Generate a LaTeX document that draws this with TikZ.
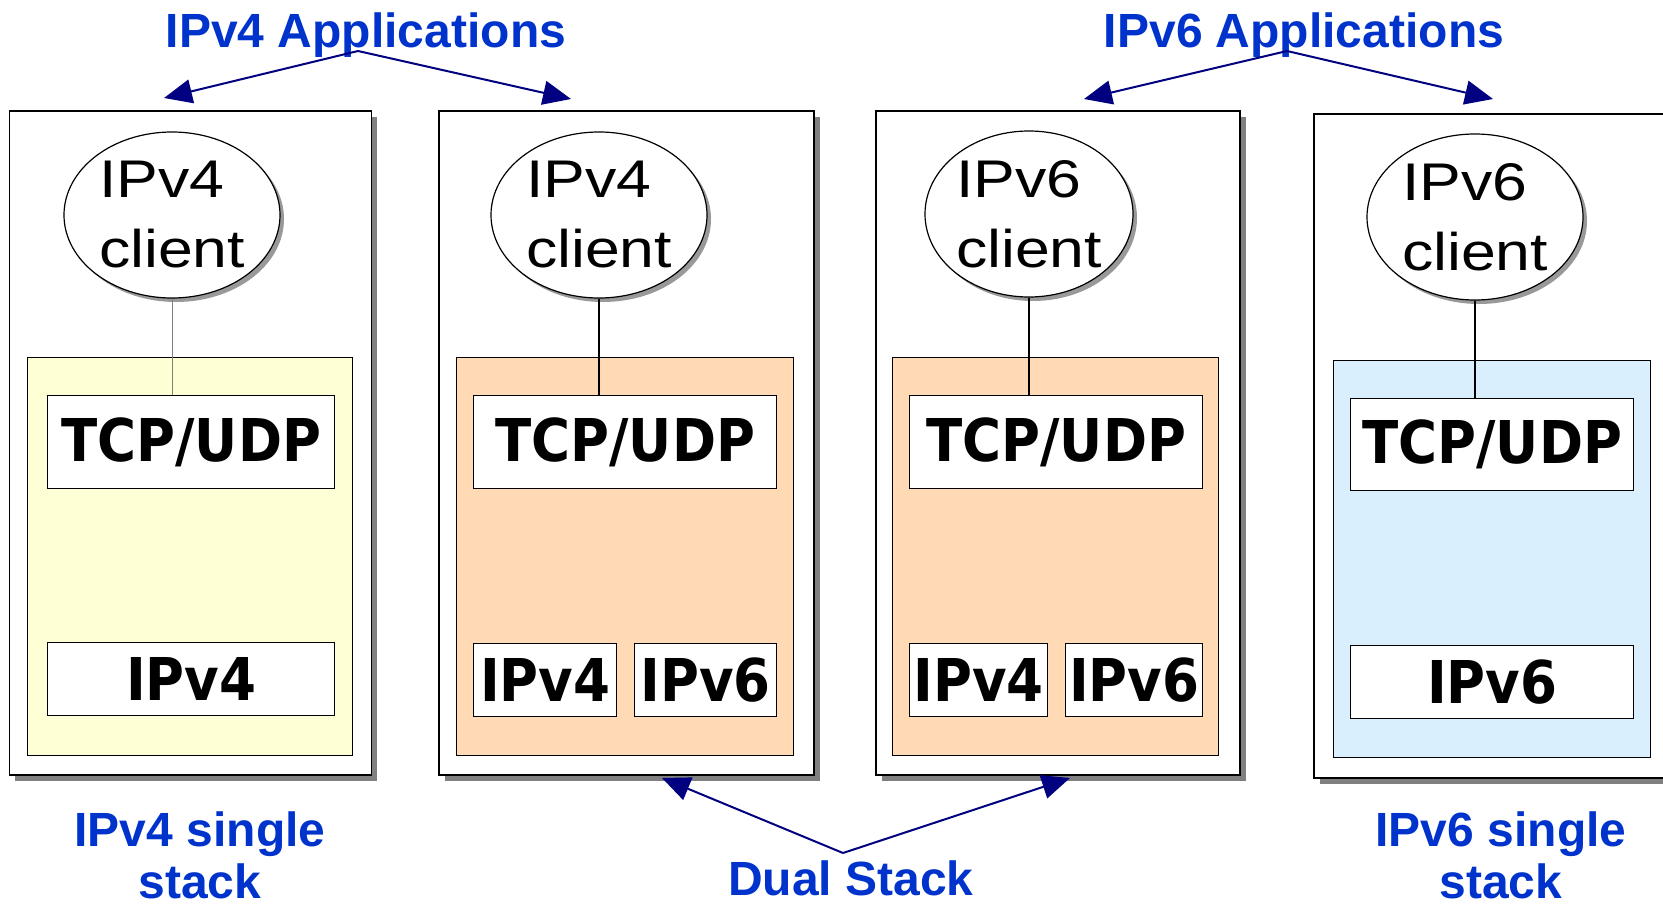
\documentclass[tikz,border=0pt]{standalone}
\usepackage{fontspec}
\setmainfont{Liberation Sans}
\newfontfamily\layerfont[FakeStretch=0.9]{DejaVu Sans Bold}
\newfontfamily\clientfont[FakeStretch=1.18]{Liberation Sans}
\usetikzlibrary{arrows.meta,shapes.geometric,shadows}

\definecolor{labelblue}{RGB}{0,51,204}
\definecolor{arrownavy}{RGB}{0,0,128}
\definecolor{vfourfill}{RGB}{255,255,214}
\definecolor{dualfill}{RGB}{255,218,180}
\definecolor{vsixfill}{RGB}{218,239,253}
\definecolor{shadowgray}{RGB}{128,128,128}

\begin{document}
\begin{tikzpicture}[x=1pt,y=-1pt,
  host/.style={draw=black, line width=1.6pt, fill=white, inner sep=0pt, anchor=north west,
    drop shadow={shadow xshift=6pt, shadow yshift=-6pt, fill=shadowgray, opacity=1}},
  stackbox/.style={draw=black, line width=1.4pt, inner sep=0pt, anchor=north west},
  layer/.style={draw=black, line width=1.4pt, fill=white, inner sep=0pt, anchor=north west,
    font=\layerfont\fontsize{59}{60}\selectfont},
  app/.style={ellipse, draw=black, line width=1.2pt, fill=white, inner sep=0pt,
    minimum width=216pt, minimum height=166pt, align=left,
    font=\clientfont\fontsize{53}{70}\selectfont,
    drop shadow={shadow xshift=4pt, shadow yshift=-4pt, fill=shadowgray!80, opacity=1}},
  tag/.style={text=labelblue, font=\bfseries\fontsize{48}{57}\selectfont, anchor=base, inner sep=0pt},
  pointer/.style={draw=arrownavy, line width=2pt, -{Triangle[length=28pt,width=24pt]}},
  link/.style={draw=black, line width=1.3pt}
]
\useasboundingbox (0,0) rectangle (1663,907);
\clip (0,0) rectangle (1663,907);
\fill[white] (0,0) rectangle (1663,907);

% host frames
\node[host, minimum width=362pt, minimum height=664pt] (host1) at (8.5,110) {};
\node[host, minimum width=375pt, minimum height=664pt] (host2) at (438,110) {};
\node[host, minimum width=364pt, minimum height=664pt] (host3) at (875,110) {};
\node[host, minimum width=377pt, minimum height=664pt] (host4) at (1313,113) {};

% protocol stacks
\node[stackbox, fill=vfourfill, minimum width=325pt, minimum height=398pt] (stack1) at (26.5,357) {};
\node[stackbox, fill=dualfill, minimum width=337pt, minimum height=398pt] (stack2) at (456,357) {};
\node[stackbox, fill=dualfill, minimum width=326pt, minimum height=398pt] (stack3) at (892,357) {};
\node[stackbox, fill=vsixfill, minimum width=317pt, minimum height=397pt] (stack4) at (1333,360) {};

% transport layers
\node[layer, minimum width=287pt, minimum height=93pt] (tcp1) at (47,395) {TCP/UDP};
\node[layer, minimum width=303pt, minimum height=93pt] (tcp2) at (473,395) {TCP/UDP};
\node[layer, minimum width=293pt, minimum height=93pt] (tcp3) at (909,395) {TCP/UDP};
\node[layer, minimum width=283pt, minimum height=92pt] (tcp4) at (1350,398) {TCP/UDP};

% network layers
\node[layer, minimum width=287pt, minimum height=73pt] (net1) at (47,642) {IPv4};
\node[layer, minimum width=143pt, minimum height=73pt] (net2a) at (473,643) {IPv4};
\node[layer, minimum width=142pt, minimum height=73pt] (net2b) at (634,643) {IPv6};
\node[layer, minimum width=138pt, minimum height=73pt] (net3a) at (909,643) {IPv4};
\node[layer, minimum width=137pt, minimum height=73pt] (net3b) at (1065,643) {IPv6};
\node[layer, minimum width=283pt, minimum height=73pt] (net4) at (1350,645) {IPv6};

% client applications
\node[app] (app1) at (172,215) {IPv4\\client};
\node[app] (app2) at (599,215) {IPv4\\client};
\node[app, minimum width=208pt] (app3) at (1029,214) {IPv6\\client};
\node[app] (app4) at (1475,217) {IPv6\\client};

% application to transport links
\draw[draw=shadowgray, line width=1pt] (app1.south) -- (app1.south |- tcp1.north);
\draw[link] (app2.south) -- (app2.south |- tcp2.north);
\draw[link] (app3.south) -- (app3.south |- tcp3.north);
\draw[link] (app4.south) -- (app4.south |- tcp4.north);

% captions
\node[tag] (cap4apps) at (366,48) {IPv4 Applications};
\node[tag] (cap6apps) at (1304,48) {IPv6 Applications};
\node[tag] (cap4single) at (200,846) {IPv4 single};
\node[tag] (cap4stack) at (200,898) {stack};
\node[tag] (capdual) at (851,895) {Dual Stack};
\node[tag] (cap6single) at (1501,846) {IPv6 single};
\node[tag] (cap6stack) at (1501,898) {stack};

% pointers
\coordinate (fork4) at (358,51);
\coordinate (tip4l) at (164,98);
\coordinate (tip4r) at (571,99);
\coordinate (fork6) at (1287,51);
\coordinate (tip6l) at (1084,99);
\coordinate (tip6r) at (1493,99);
\coordinate (forkd) at (843,853);
\coordinate (tipdl) at (662,778);
\coordinate (tipdr) at (1070,778);
\draw[pointer] (fork4) -- (tip4l);
\draw[pointer] (fork4) -- (tip4r);
\draw[pointer] (fork6) -- (tip6l);
\draw[pointer] (fork6) -- (tip6r);
\draw[pointer] (forkd) -- (tipdl);
\draw[pointer] (forkd) -- (tipdr);
\end{tikzpicture}
\end{document}
